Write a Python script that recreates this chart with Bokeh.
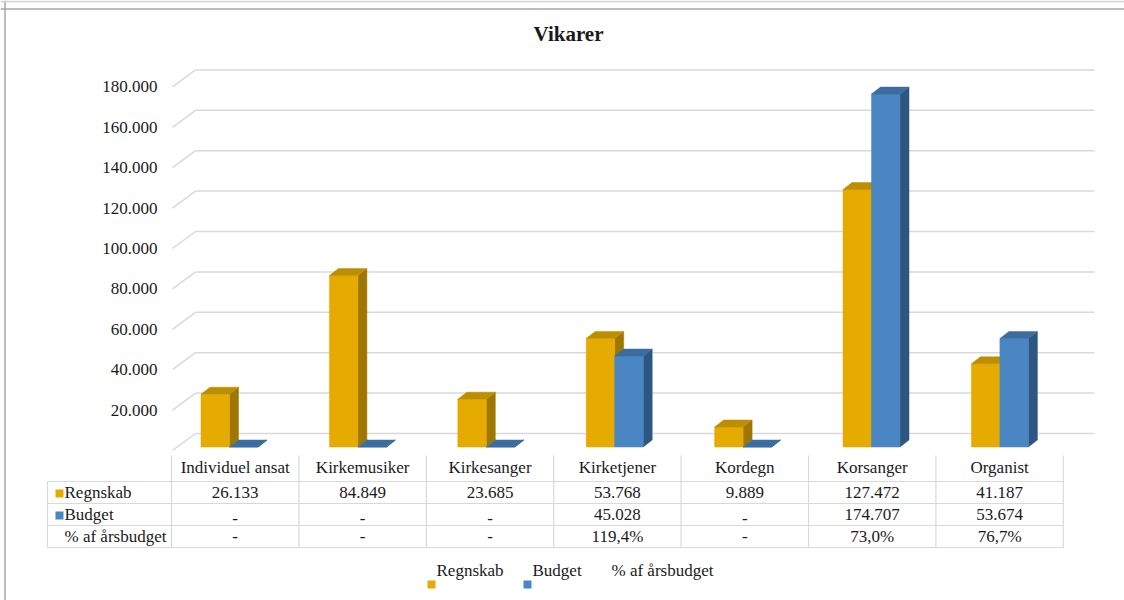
from bokeh.plotting import figure
from bokeh.models import Range1d, Label, Span
from bokeh.core.properties import value
from bokeh.embed import file_html
from bokeh.resources import INLINE

# ---------------- data ----------------
title_text = "Vikarer"
categories = ["Individuel ansat", "Kirkemusiker", "Kirkesanger", "Kirketjener",
              "Kordegn", "Korsanger", "Organist"]
regnskab = [26133, 84849, 23685, 53768, 9889, 127472, 41187]
budget = [0, 0, 0, 45028, 0, 174707, 53674]
series_names = ["Regnskab", "Budget", "% af årsbudget"]
y_ticks = [0, 20000, 40000, 60000, 80000, 100000, 120000, 140000, 160000, 180000]


def fmt_thousands(v):
    return "-" if not v else f"{v:,}".replace(",", ".")


regnskab_labels = [fmt_thousands(v) for v in regnskab]
budget_labels = [fmt_thousands(v) for v in budget]
pct_labels = ["-" if not b else f"{r / b * 100:.1f}%".replace(".", ",")
              for r, b in zip(regnskab, budget)]
y_tick_labels = ["" if t == 0 else fmt_thousands(t) for t in y_ticks]

# ---------------- layout (page pixels) ----------------
W, H = 1124, 600
M = 0
BAR_X0, BAR_DX = 229.0, 128.4      # bar-plane: category centre / spacing
BAR_Y0, KY = 446.5, 0.00202        # bar-plane: zero line / px per unit
TBL_X0, TBL_DX = 234.7, 127.4      # table column centre / width
TBL_Y0, TBL_DY = 481.0, 22.0       # table first row line / row height

FONT = value("Liberation Serif")
FS = "17px"
TXT = "#1a1a1a"
GRID = "#d9d9d9"
ORANGE = dict(front="#E5AB00", side="#9E7600", top="#BC8E00")
BLUE = dict(front="#4A86C2", side="#2D5680", top="#3C6D9E")


def bx(px):
    return (px - BAR_X0) / BAR_DX


def by(py):
    return (BAR_Y0 - py) / KY


def tx(px):
    return (px - TBL_X0) / TBL_DX


def ty(py):
    return (py - TBL_Y0) / TBL_DY


p = figure(width=W, height=H, output_backend="svg", toolbar_location=None,
           x_range=Range1d(bx(M), bx(M + W)), y_range=Range1d(by(M + H), by(M)),
           x_axis_location=None, y_axis_location=None, min_border=0)
p.extra_x_ranges = {"t": Range1d(tx(M), tx(M + W))}
p.extra_y_ranges = {"t": Range1d(ty(M + H), ty(M))}
p.xgrid.visible = False
p.ygrid.visible = False
p.outline_line_color = None
p.background_fill_color = "white"
p.border_fill_color = "white"

# outer frame (left & top edges) and page rule
p.add_layout(Span(location=bx(4.5), dimension="height", line_color="#a6a6a6", line_width=1.5))
p.add_layout(Span(location=by(8.5), dimension="width", line_color="#a6a6a6", line_width=1.5))
p.add_layout(Span(location=by(1), dimension="width", line_color="#d0d0d0", line_width=1.5))

# ---------------- 3D walls / gridlines ----------------
front_dy = -3.5 / KY      # front plane relative to bar plane
back_dy = 13.5 / KY       # back wall relative to bar plane
x_front_l, x_back_l, x_back_r = bx(172), bx(195), bx(1094)
p.segment(x0=[x_front_l] * len(y_ticks), y0=[t + front_dy for t in y_ticks],
          x1=[x_back_l] * len(y_ticks), y1=[t + back_dy for t in y_ticks],
          line_color=GRID, line_width=1.5)
p.segment(x0=[x_back_l] * len(y_ticks), y0=[t + back_dy for t in y_ticks],
          x1=[x_back_r] * len(y_ticks), y1=[t + back_dy for t in y_ticks],
          line_color=GRID, line_width=1.5)

p.text(x=[bx(157)] * len(y_ticks), y=[t + front_dy for t in y_ticks], text=y_tick_labels,
       text_font=FONT, text_font_size=FS, text_color=TXT,
       text_align="right", text_baseline="middle")

# ---------------- 3D bars ----------------
bw = 28.5 / BAR_DX
ddx = 9 / BAR_DX
ddy = 7 / KY


def draw_bars(vals, offset, col):
    lefts = [i + offset for i in range(len(vals))]
    rights = [l + bw for l in lefts]
    side_xs = [[r, r + ddx, r + ddx, r] for r in rights]
    side_ys = [[0, ddy, v + ddy, v] for v in vals]
    p.patches(side_xs, side_ys, fill_color=col["side"], line_color=col["side"], line_width=0.5)
    p.quad(left=lefts, right=rights, bottom=[0] * len(vals), top=vals,
           fill_color=col["front"], line_color=col["front"], line_width=0.5)
    top_xs = [[l, r, r + ddx, l + ddx] for l, r in zip(lefts, rights)]
    top_ys = [[v, v, v + ddy, v + ddy] for v in vals]
    p.patches(top_xs, top_ys, fill_color=col["top"], line_color=col["top"], line_width=0.5)


draw_bars(regnskab, -bw, ORANGE)
draw_bars(budget, 0.0, BLUE)

# ---------------- data table ----------------
n = len(categories)
row_left = tx(47)
header_top = ty(455)
bounds = [k - 0.5 for k in range(n + 1)]
p.segment(x0=[row_left] * 4, y0=[0, 1, 2, 3], x1=[n - 0.5] * 4, y1=[0, 1, 2, 3],
          x_range_name="t", y_range_name="t", line_color=GRID, line_width=1.2)
p.segment(x0=bounds, y0=[header_top] * len(bounds), x1=bounds, y1=[3] * len(bounds),
          x_range_name="t", y_range_name="t", line_color=GRID, line_width=1.2)
p.segment(x0=[row_left], y0=[0], x1=[row_left], y1=[3],
          x_range_name="t", y_range_name="t", line_color=GRID, line_width=1.2)

txt_kw = dict(x_range_name="t", y_range_name="t", text_font=FONT, text_font_size=FS,
              text_color=TXT, text_baseline="middle")
p.text(x=list(range(n)), y=[ty(467)] * n, text=categories, text_align="center", **txt_kw)
dash_drop = {0: 0.0, 1: 0.2, 2: 0.0}   # the budget row's dashes sit a little lower
for r, labels in enumerate([regnskab_labels, budget_labels, pct_labels]):
    ys = [r + 0.5 + (dash_drop[r] if lab == "-" else 0.0) for lab in labels]
    p.text(x=list(range(n)), y=ys, text=labels, text_align="center", **txt_kw)

p.text(x=[tx(64)] * 3, y=[0.5, 1.5, 2.5], text=series_names, text_align="left", **txt_kw)
p.rect(x=[tx(59)] * 2, y=[0.55, 1.55], width=8, height=8, width_units="screen",
       height_units="screen", fill_color=[ORANGE["front"], BLUE["front"]], line_color=None,
       x_range_name="t", y_range_name="t")

# ---------------- legend ----------------
leg_text_x = [tx(436), tx(532), tx(611)]
p.text(x=leg_text_x, y=[ty(570)] * 3, text=series_names, text_align="left", **txt_kw)
p.rect(x=[tx(431), tx(527)], y=[ty(584)] * 2, width=8, height=8, width_units="screen",
       height_units="screen", fill_color=[ORANGE["front"], BLUE["front"]], line_color=None,
       x_range_name="t", y_range_name="t")

# ---------------- title ----------------
p.add_layout(Label(x=568, y=H - 33, x_units="screen", y_units="screen", text=title_text,
                   text_font="Liberation Serif", text_font_size="21px", text_font_style="bold",
                   text_color=TXT, text_align="center", text_baseline="middle"))

open("out.html", "w").write(file_html(p, INLINE))
